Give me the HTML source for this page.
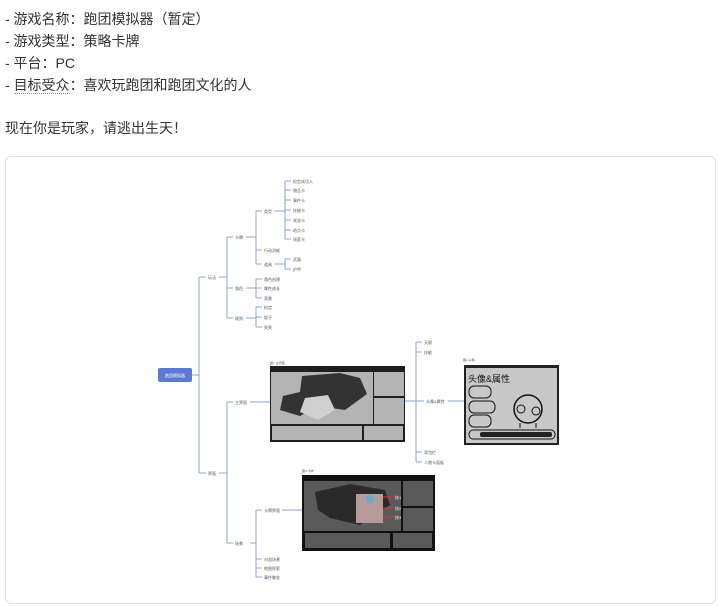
<!DOCTYPE html>
<html><head><meta charset="utf-8"><style>
html,body{margin:0;padding:0;background:#fff;width:720px;height:606px;overflow:hidden}
.t{position:absolute;left:5px;font:14px "Liberation Sans","Noto Sans CJK SC",sans-serif;color:#333;white-space:nowrap}
.card{position:absolute;left:5px;top:156px;width:709px;height:446px;border:1px solid #e2e2e2;border-radius:6px}
svg{position:absolute;left:0;top:0}
svg text{font-family:"Liberation Sans","Noto Sans CJK SC",sans-serif;font-size:4px;fill:#555}
</style></head><body>
<div class="t" style="top:9px">- 游戏名称：跑团模拟器（暂定）</div>
<div class="t" style="top:31px">- 游戏类型：策略卡牌</div>
<div class="t" style="top:53px">- 平台：PC</div>
<div class="t" style="top:75px">- <span style="border-bottom:1px dotted #999">目标受众</span>：喜欢玩跑团和跑团文化的人</div>
<div class="t" style="top:118px">现在你是玩家，请逃出生天！</div>
<div class="card"></div>
<svg width="720" height="606" viewBox="0 0 720 606">
<g stroke="#8fa3d9" stroke-width="1" fill="none">
<path d="M192 375H199M199 277V473M199 277H206M199 473H206"/>
<path d="M219 277H227M227 237V318M227 237H233M227 288H233M227 318H233"/>
<path d="M246 237H256M256 211V264M256 211H262M256 250H262M256 264H262"/>
<path d="M274 211H285M285 181V239M285 181H291M285 190H291M285 200H291M285 210H291M285 220H291M285 230H291M285 239H291"/>
<path d="M274 264H285M285 259V269M285 259H291M285 269H291"/>
<path d="M246 288H256M256 279V298M256 279H262M256 288H262M256 298H262"/>
<path d="M246 318H256M256 307V327M256 307H262M256 317H262M256 327H262"/>
<path d="M219 473H227M227 402V543M227 402H233M227 543H233"/>
<path d="M250 402H270"/>
<path d="M405 401H416M416 342V462M416 342H422M416 352H422M416 401H424M416 452H422M416 462H422"/>
<path d="M448 401H464"/>
<path d="M250 543H256M256 510V577M256 510H262M256 559H262M256 568H262M256 577H262"/>
<path d="M282 510H302"/>
</g>
<rect x="158" y="368" width="34" height="14" rx="2" fill="#5b7bd0"/>
<text x="175" y="377" text-anchor="middle" style="fill:#fff">跑团模拟器</text>
<text x="208" y="279">玩法</text><text x="208" y="475">界面</text>
<text x="235" y="239">卡牌</text><text x="235" y="290">角色</text><text x="235" y="320">规则</text>
<text x="264" y="213">类型</text><text x="264" y="252">行动消耗</text><text x="264" y="266">道具</text>
<text x="293" y="183">检定成功入</text><text x="293" y="192">物品卡</text><text x="293" y="202">事件卡</text><text x="293" y="212">技能卡</text><text x="293" y="222">状态卡</text><text x="293" y="232">地点卡</text><text x="293" y="241">线索卡</text>
<text x="293" y="261">武器</text><text x="293" y="271">护甲</text>
<text x="264" y="281">角色创建</text><text x="264" y="290">属性成长</text><text x="264" y="300">背景</text>
<text x="264" y="309">检定</text><text x="264" y="319">骰子</text><text x="264" y="329">失败</text>
<text x="235" y="404">主界面</text><text x="235" y="545">场景</text>
<text x="424" y="344">天赋</text><text x="424" y="354">技能</text><text x="426" y="403">头像&amp;属性</text><text x="424" y="454">背包栏</text><text x="424" y="464">人物卡面板</text>
<text x="264" y="512">卡牌界面</text><text x="264" y="561">对战场景</text><text x="264" y="570">地图探索</text><text x="264" y="579">事件触发</text>
<text x="270" y="364" style="font-size:3px">图1-主界面</text>
<text x="463" y="361" style="font-size:3px">图2-头像</text>
<text x="302" y="472" style="font-size:3px">图3-卡牌</text>
<!-- main screen -->
<rect x="270" y="366" width="135" height="76" fill="#1e1e1e"/>
<rect x="271" y="372" width="102" height="52" fill="#b4b4b4"/>
<rect x="374" y="372" width="30" height="24" fill="#b4b4b4"/>
<rect x="374" y="398" width="30" height="26" fill="#b4b4b4"/>
<rect x="272" y="426" width="90" height="14" fill="#b4b4b4"/>
<rect x="364" y="426" width="39" height="14" fill="#b4b4b4"/>
<path d="M302 376L340 373L360 378L367 394L345 410L318 406L300 416L280 410L283 396L300 392Z" fill="#333"/>
<path d="M305 398L328 395L335 410L318 420L300 412Z" fill="#cfcfcf"/>
<!-- character -->
<rect x="464" y="365" width="95" height="80" fill="#222"/>
<rect x="466" y="368" width="91" height="75" fill="#c8c8c8"/>
<text x="468" y="382" style="font-size:9px;fill:#111">头像&amp;属性</text>
<rect x="469" y="386" width="22" height="12" rx="5" fill="none" stroke="#111"/>
<rect x="469" y="401" width="26" height="12" rx="5" fill="none" stroke="#111"/>
<rect x="469" y="415" width="22" height="12" rx="5" fill="none" stroke="#111"/>
<circle cx="528" cy="409" r="14" fill="none" stroke="#111" stroke-width="1.5"/>
<circle cx="521" cy="409" r="4" fill="none" stroke="#111"/><circle cx="536" cy="411" r="4" fill="none" stroke="#111"/>
<path d="M520 423V428M536 423V428" stroke="#111"/>
<rect x="469" y="430" width="86" height="9" rx="4" fill="none" stroke="#111"/>
<rect x="480" y="432" width="72" height="5" rx="2" fill="#222"/>
<!-- card screen -->
<rect x="302" y="475" width="133" height="76" fill="#111"/>
<rect x="304" y="481" width="97" height="50" fill="#5a5a5a"/>
<rect x="403" y="481" width="30" height="25" fill="#5a5a5a"/>
<rect x="403" y="508" width="30" height="23" fill="#5a5a5a"/>
<rect x="305" y="533" width="85" height="15" fill="#5a5a5a"/>
<rect x="393" y="533" width="39" height="15" fill="#5a5a5a"/>
<path d="M315 492L350 484L385 490L390 505L360 525L330 518L318 510Z" fill="#2a2a2a"/>
<rect x="356" y="494" width="27" height="29" fill="#b89a9a"/>
<circle cx="370" cy="499" r="4" fill="#6aa9c9"/>
<path d="M383 497H394M383 508H394M383 517H394" stroke="#d33" stroke-width="1"/>
<text x="395" y="499" style="fill:#fff">技1</text><text x="395" y="510" style="fill:#fff">技2</text><text x="395" y="519" style="fill:#fff">技3</text>
</svg>
</body></html>
